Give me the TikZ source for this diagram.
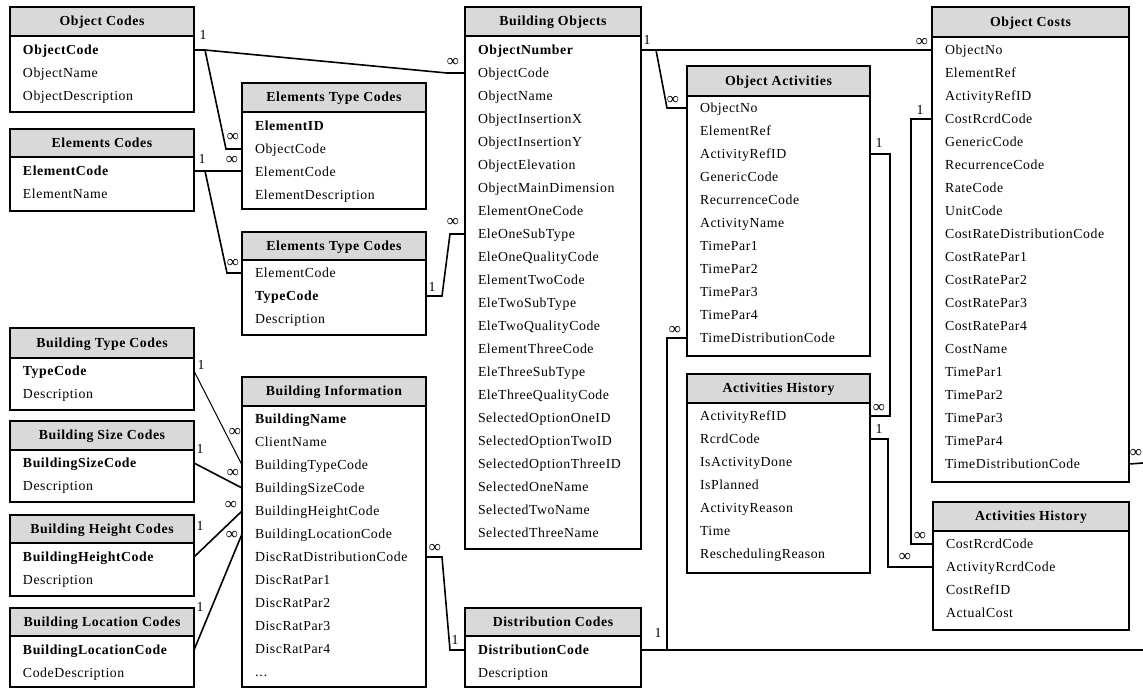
\documentclass[tikz,border=0pt]{standalone}
\usepackage{fontspec}
\setmainfont{Liberation Serif}[LetterSpace=4]
\usetikzlibrary{calc}
\definecolor{hdrgray}{RGB}{217,217,217}
\newcommand{\fs}{\fontsize{13.8}{15}\selectfont}
\newcommand{\ellipdots}{.\kern1pt.\kern1pt.}
\newcommand{\many}{{\fontsize{17}{17}\selectfont ∞}}
\tikzset{
  tbox/.style={draw, line width=1.8pt, inner sep=0pt, outer sep=0pt, anchor=north west},
  hdrbox/.style={draw, line width=1.8pt, fill=hdrgray, inner sep=0pt, outer sep=0pt, anchor=north west, font=\fs\bfseries, text height=8pt, text depth=0pt},
  rowtxt/.style={anchor=west, inner sep=0pt, outer sep=0pt, font=\fs, text height=9.5pt, text depth=0pt},
  lbl/.style={inner sep=0pt, font=\fs},
  conn/.style={line width=1.6pt},
  thinconn/.style={line width=1pt},
}
% name, left, top, right, header bottom, bottom, title, first row y, rows
\newcommand{\erdtable}[9]{%
  \node[hdrbox, minimum width={#4-#2}, minimum height={#5-#3}] (#1-h) at (#2,#3) {#7};
  \node[tbox, minimum width={#4-#2}, minimum height={#6-#3}] (#1) at (#2,#3) {};
  \foreach \t [count=\i] in {#9} {\node[rowtxt] (#1-\i) at ({#2+13},{#8+23*\i-23}) {\t};}
}
\begin{document}
\begin{tikzpicture}[x=1pt,y=-1pt]
\useasboundingbox[fill=white] (0,0) rectangle (1143,689);

\erdtable{oc}{10}{7}{194}{36}{112}{Object Codes}{50}{\textbf{ObjectCode},ObjectName,ObjectDescription}
\erdtable{ec}{10}{129}{194}{157}{211}{Elements Codes}{171}{\textbf{ElementCode},ElementName}
\erdtable{etca}{242}{83}{426}{112}{209}{Elements Type Codes}{126}{\textbf{ElementID},ObjectCode,ElementCode,ElementDescription}
\erdtable{etcb}{242}{232}{426}{260}{335}{Elements Type Codes}{273}{ElementCode,\textbf{TypeCode},Description}
\erdtable{btc}{10}{328}{194}{358}{410}{Building Type Codes}{371}{\textbf{TypeCode},Description}
\erdtable{bsc}{10}{421}{194}{450}{502}{Building Size Codes}{463}{\textbf{BuildingSizeCode},Description}
\erdtable{bhc}{10}{515}{194}{543}{596}{Building Height Codes}{557}{\textbf{BuildingHeightCode},Description}
\erdtable{blc}{10}{608}{194}{636}{687}{Building Location Codes}{650}{\textbf{BuildingLocationCode},CodeDescription}
\erdtable{bi}{242}{377}{426}{406}{687}{Building Information}{419}{\textbf{BuildingName},ClientName,BuildingTypeCode,BuildingSizeCode,BuildingHeightCode,BuildingLocationCode,DiscRatDistributionCode,DiscRatPar1,DiscRatPar2,DiscRatPar3,DiscRatPar4,\ellipdots}
\erdtable{bo}{465}{7}{641}{36}{549}{Building Objects}{50}{\textbf{ObjectNumber},ObjectCode,ObjectName,ObjectInsertionX,ObjectInsertionY,ObjectElevation,ObjectMainDimension,ElementOneCode,EleOneSubType,EleOneQualityCode,ElementTwoCode,EleTwoSubType,EleTwoQualityCode,ElementThreeCode,EleThreeSubType,EleThreeQualityCode,SelectedOptionOneID,SelectedOptionTwoID,SelectedOptionThreeID,SelectedOneName,SelectedTwoName,SelectedThreeName}
\erdtable{dc}{465}{608}{641}{636}{687}{Distribution Codes}{650}{\textbf{DistributionCode},Description}
\erdtable{oa}{687}{66}{870}{96}{356}{Object Activities}{108}{ObjectNo,ElementRef,ActivityRefID,GenericCode,RecurrenceCode,ActivityName,TimePar1,TimePar2,TimePar3,TimePar4,TimeDistributionCode}
\erdtable{aha}{687}{374}{870}{403}{573}{Activities History}{416}{ActivityRefID,RcrdCode,IsActivityDone,IsPlanned,ActivityReason,Time,ReschedulingReason}
\erdtable{ocst}{932}{7}{1129}{37}{482}{Object Costs}{50}{ObjectNo,ElementRef,ActivityRefID,CostRcrdCode,GenericCode,RecurrenceCode,RateCode,UnitCode,CostRateDistributionCode,CostRatePar1,CostRatePar2,CostRatePar3,CostRatePar4,CostName,TimePar1,TimePar2,TimePar3,TimePar4,TimeDistributionCode}
\erdtable{ahb}{933}{502}{1129}{531}{630}{Activities History}{544}{CostRcrdCode,ActivityRcrdCode,CostRefID,ActualCost}

\coordinate (redgeA) at (1143,650);
\coordinate (redgeB) at (1143,463);

% connectors
\draw[conn] (oc.east |- oc-1) -- ++(11,0) coordinate (j1) -- ($(bo.west |- bo-2)+(-18,0)$) -- (bo.west |- bo-2);
\draw[conn] (j1) -- ($(etca.west |- etca-2)+(-16,0)$) -- (etca.west |- etca-2);
\draw[conn] (ec.east |- ec-1) -- (ec-1 -| etca.west);
\coordinate (j2) at ($(ec.east |- ec-1)+(11,0)$);
\draw[conn] (j2) -- ($(etcb.west |- etcb-1)+(-15,0)$) -- (etcb.west |- etcb-1);
\draw[conn] (etcb.east |- etcb-2) -- ++(16,0) -- ($(bo.west |- bo-9)+(-15,0)$) -- (bo.west |- bo-9);
\draw[thinconn] (btc.east |- btc-1) -- (bi.west |- bi-3);
\draw[conn] (bsc.east |- bsc-1) -- (bi.west |- bi-4);
\draw[conn] (bhc.east |- bhc-1) -- (bi.west |- bi-5);
\draw[conn] (blc.east |- blc-1) -- (bi.west |- bi-6);
\draw[conn] (bi.east |- bi-7) -- ++(16,0) -- ($(dc.west |- dc-1)+(-15,0)$) -- (dc.west |- dc-1);
\draw[conn] (bo.east |- bo-1) -- (ocst.west |- ocst-1);
\draw[conn] ($(bo.east |- bo-1)+(15,0)$) -- ($(oa.west |- oa-1)+(-20,0)$) -- (oa.west |- oa-1);
\draw[conn] (oa.east |- oa-3) -- ++(20,0) |- (aha.east |- aha-1);
\draw[conn] (aha.east |- aha-2) -- ++(18,0) |- (ahb.west |- ahb-2);
\draw[conn] (ocst.west |- ocst-4) -- ++(-21,0) |- (ahb.west |- ahb-1);
\draw[conn] (dc.east |- dc-1) -- ++(26,0) |- (oa.west |- oa-11);
\draw[conn] (dc.east |- dc-1) -- (redgeA);
\draw[conn] (ocst.east |- ocst-19) -- (redgeB);

% cardinality labels
\node[lbl] (l1) at (203,35) {1};
\node[lbl] (l2) at (453,62) {\many};
\node[lbl] (l3) at (233,137) {\many};
\node[lbl] (l4) at (202,159) {1};
\node[lbl] (l5) at (232,160) {\many};
\node[lbl] (l6) at (233,263) {\many};
\node[lbl] (l7) at (432,287) {1};
\node[lbl] (l8) at (453,222) {\many};
\node[lbl] (l9) at (201,365) {1};
\node[lbl] (l10) at (235,432) {\many};
\node[lbl] (l11) at (200,449) {1};
\node[lbl] (l12) at (233,473) {\many};
\node[lbl] (l13) at (200,526) {1};
\node[lbl] (l14) at (231,505) {\many};
\node[lbl] (l15) at (200,607) {1};
\node[lbl] (l16) at (232,535) {\many};
\node[lbl] (l17) at (435,548) {\many};
\node[lbl] (l18) at (455,640) {1};
\node[lbl] (l19) at (647,40) {1};
\node[lbl] (l20) at (922,42) {\many};
\node[lbl] (l21) at (673,100) {\many};
\node[lbl] (l22) at (879,143) {1};
\node[lbl] (l23) at (879,408) {\many};
\node[lbl] (l24) at (879,429) {1};
\node[lbl] (l25) at (905,557) {\many};
\node[lbl] (l26) at (920,110) {1};
\node[lbl] (l27) at (920,536) {\many};
\node[lbl] (l28) at (658,633) {1};
\node[lbl] (l29) at (675,330) {\many};
\node[lbl] (l30) at (1136,453) {\many};
\end{tikzpicture}
\end{document}
